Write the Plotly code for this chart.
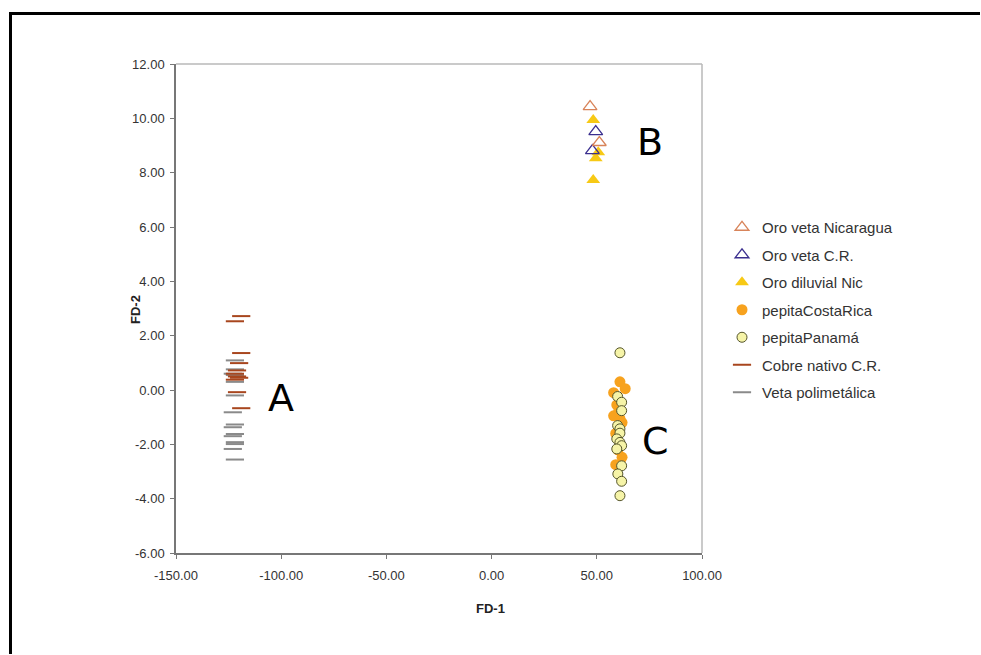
import plotly.graph_objects as go

# ---- data ----
oro_nic_x = [46.8, 51.2]
oro_nic_y = [10.43, 9.11]

oro_cr_x = [49.5, 47.9]
oro_cr_y = [9.51, 8.81]

oro_dil_x = [48.3, 50.7, 49.5, 48.3]
oro_dil_y = [9.94, 8.75, 8.53, 7.73]

pep_cr_x = [61.0, 63.5, 58.0, 59.5, 58.0, 61.0, 62.0, 59.0, 60.0, 62.0, 59.0, 60.5]
pep_cr_y = [0.30, 0.05, -0.10, -0.55, -0.95, -1.05, -1.20, -1.60, -2.20, -2.48, -2.75, -0.75]

pep_pa_x = [61.0, 59.9, 61.8, 61.8, 59.9, 61.0, 61.0, 59.5, 61.0, 61.8, 59.5, 61.8, 60.0, 61.8, 61.0]
pep_pa_y = [1.37, -0.24, -0.45, -0.76, -1.31, -1.43, -1.59, -1.80, -1.93, -2.05, -2.17, -2.79, -3.09, -3.36, -3.89]

cobre_x = [-119, -122, -119, -120, -121, -122, -121, -120, -122, -121, -119]
cobre_y = [2.72, 2.53, 1.36, 0.99, 0.72, 0.60, 0.50, 0.45, 0.38, -0.08, -0.67]

veta_x = [-122, -122, -123, -122, -122, -123, -122, -123, -122, -123, -122, -122, -123, -122, -122]
veta_y = [1.09, 0.76, 0.60, 0.30, -0.20, -0.82, -1.27, -1.37, -1.62, -1.70, -1.92, -1.99, -2.17, -2.56, 0.55]

labels = ["A", "B", "C"]
label_x = [-100, 75.3, 77.7]
label_y = [-0.31, 9.13, -1.86]

x_ticks = [-150, -100, -50, 0, 50, 100]
y_ticks = [-6, -4, -2, 0, 2, 4, 6, 8, 10, 12]

fig = go.Figure()

fig.add_trace(go.Scatter(x=veta_x, y=veta_y, mode="markers", name="Veta polimetálica",
                         legendgroup="g7", legendrank=7,
                         marker=dict(symbol="line-ew", size=13, line=dict(color="#8a8a8a", width=2))))
fig.add_trace(go.Scatter(x=cobre_x, y=cobre_y, mode="markers", name="Cobre nativo C.R.",
                         legendgroup="g6", legendrank=6,
                         marker=dict(symbol="line-ew", size=13, line=dict(color="#a8461e", width=2))))
fig.add_trace(go.Scatter(x=pep_cr_x, y=pep_cr_y, mode="markers", name="pepitaCostaRica",
                         legendgroup="g4", legendrank=4,
                         marker=dict(symbol="circle", size=11, color="#f7a21e", line=dict(width=0))))
fig.add_trace(go.Scatter(x=pep_pa_x, y=pep_pa_y, mode="markers", name="pepitaPanamá",
                         legendgroup="g5", legendrank=5,
                         marker=dict(symbol="circle", size=10, color="#f6f4a8", line=dict(color="#55552a", width=1))))
fig.add_trace(go.Scatter(x=oro_dil_x, y=oro_dil_y, mode="markers", name="Oro diluvial Nic",
                         legendgroup="g3", legendrank=3,
                         marker=dict(symbol="triangle-up", size=12, color="#f7c915", line=dict(width=0))))
fig.add_trace(go.Scatter(x=oro_cr_x, y=oro_cr_y, mode="markers", name="Oro veta C.R.",
                         legendgroup="g2", legendrank=2,
                         marker=dict(symbol="triangle-up-open", size=12, color="#3b2f8f", line=dict(width=1.3))))
fig.add_trace(go.Scatter(x=oro_nic_x, y=oro_nic_y, mode="markers", name="Oro veta Nicaragua",
                         legendgroup="g1", legendrank=1,
                         marker=dict(symbol="triangle-up-open", size=12, color="#d8845a", line=dict(width=1.3))))

for t, lx, ly in zip(labels, label_x, label_y):
    fig.add_annotation(x=lx, y=ly, text=t, showarrow=False,
                       font=dict(family="DejaVu Sans", size=38, color="#000000"))

W, H = 981, 655
L, R, T, B = 176, 702, 64, 553
pw, ph = R - L, B - T

def px(xp):
    return (xp - L) / pw

def py(yp):
    return (B - yp) / ph

# axis titles
fig.add_annotation(xref="paper", yref="paper", x=px(490), y=py(608), text="<b>FD-1</b>",
                   xanchor="center", yanchor="middle",
                   showarrow=False, font=dict(size=13, color="#222222"))
fig.add_annotation(xref="paper", yref="paper", x=px(135), y=py(310), text="<b>FD-2</b>",
                   xanchor="center", yanchor="middle",
                   textangle=-90, showarrow=False, font=dict(size=13, color="#222222"))

# outer black frame (left and top edges visible in the picture), kept inside the page
fig.add_shape(type="line", xref="paper", yref="paper",
              x0=px(10.5), x1=px(10.5), y0=py(12), y1=py(654),
              line=dict(color="#000000", width=3))
fig.add_shape(type="line", xref="paper", yref="paper",
              x0=px(9), x1=px(980), y0=py(13.5), y1=py(13.5),
              line=dict(color="#000000", width=3))
# top and right plot borders
fig.add_shape(type="line", xref="paper", yref="paper", x0=0, x1=1, y0=1, y1=1,
              line=dict(color="#b8b8b8", width=1.5))
fig.add_shape(type="line", xref="paper", yref="paper", x0=1, x1=1, y0=0, y1=1,
              line=dict(color="#b8b8b8", width=1.5))

fig.update_layout(
    width=W, height=H,
    margin=dict(l=L, r=W - R, t=T, b=H - B, pad=0),
    paper_bgcolor="white", plot_bgcolor="white",
    font=dict(family="Liberation Sans, Arial", size=12, color="#333333"),
    showlegend=True,
    legend=dict(x=px(722), y=py(211), xanchor="left", yanchor="top",
                font=dict(size=15, color="#333333"), tracegroupgap=5,
                itemwidth=30, bgcolor="rgba(0,0,0,0)"),
    xaxis=dict(range=[-150, 100], tickvals=x_ticks, ticktext=[f"{v:.2f}" for v in x_ticks],
               showgrid=False, zeroline=False, showline=True, linecolor="#777777", linewidth=1.5,
               ticks="outside", ticklen=4, tickcolor="#777777", ticklabelstandoff=6,
               tickfont=dict(size=13, color="#333333")),
    yaxis=dict(range=[-6, 12], tickvals=y_ticks, ticktext=[f"{v:.2f}" for v in y_ticks],
               showgrid=False, zeroline=False, showline=True, linecolor="#777777", linewidth=1.5,
               ticks="outside", ticklen=4, tickcolor="#777777", ticklabelstandoff=3,
               tickfont=dict(size=13, color="#333333")),
)

fig.write_html("out.html")
